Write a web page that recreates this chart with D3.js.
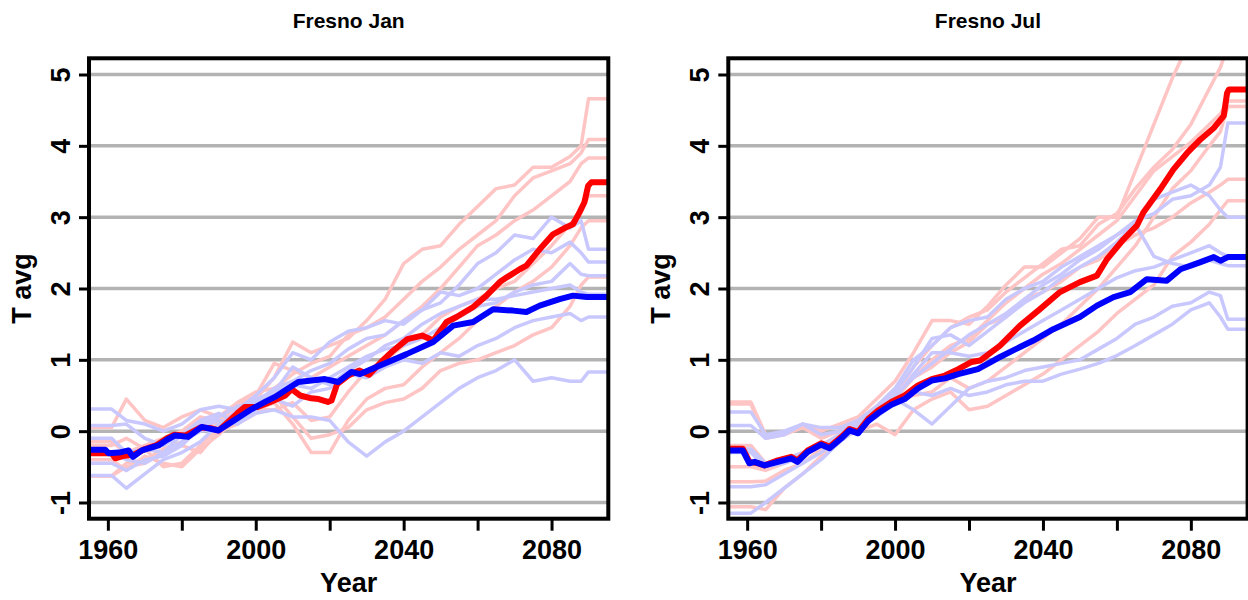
<!DOCTYPE html>
<html><head><meta charset="utf-8">
<script src="https://cdn.jsdelivr.net/npm/d3@7/dist/d3.min.js"></script>
<style>body{margin:0;background:#fff} svg{display:block}</style>
</head><body>
<svg id="chart" width="1248" height="600"></svg>
<script>
// ---------- DATA ----------
const panelTitles = ["Fresno Jan", "Fresno Jul"];
const xLabel = "Year";
const yLabel = "T avg";
const yTicks = [-1, 0, 1, 2, 3, 4, 5];
const xTicks = [1960, 1980, 2000, 2020, 2040, 2060, 2080];
const xTickLabels = ["1960", "", "2000", "", "2040", "", "2080"];

// ensemble members (pale lines) share these years
const ensYears = [1955,1961,1965,1970,1975,1980,1985,1990,1995,2000,2005,2010,2015,2020,2025,2030,2035,2040,2045,2050,2055,2060,2065,2070,2075,2080,2085,2088,2090,2095];

// ---- January ----
const janRedA = [-0.63,-0.63,-0.45,-0.4,-0.25,-0.15,0.05,0.1,0.3,0.45,0.75,1.25,1.1,1.2,1.3,1.55,1.85,2.35,2.55,2.6,2.9,3.15,3.4,3.45,3.7,3.7,3.85,4.0,4.66,4.66];
const janRedB = [0.05,0.05,0.45,0.15,0.05,0.2,0.3,0.2,0.4,0.55,0.6,0.8,0.95,1.05,1.35,1.45,1.6,1.85,2.1,2.3,2.55,2.75,2.95,3.3,3.55,3.65,3.75,3.9,4.09,4.09];
const janRedC = [-0.15,-0.15,-0.3,-0.2,-0.1,0.0,0.2,0.15,0.35,0.5,0.95,0.85,0.75,0.9,1.05,1.2,1.35,1.55,1.75,2.0,2.3,2.6,2.75,2.95,3.1,3.3,3.5,3.75,3.83,3.83];
const janRedD = [-0.4,-0.4,-0.55,-0.35,-0.45,-0.5,-0.25,-0.05,0.2,0.3,0.3,0.4,0.15,0.2,0.55,0.85,1.0,1.2,1.35,1.6,1.75,1.85,2.0,2.1,2.35,2.6,2.9,3.1,3.3,3.3];
const janRedE = [-0.63,-0.63,-0.5,-0.45,-0.3,-0.2,-0.3,0.0,0.1,0.3,0.4,0.1,-0.3,-0.3,0.15,0.45,0.6,0.65,0.9,1.1,1.3,1.55,1.75,1.95,2.1,2.3,2.6,2.85,2.95,2.95];
const janRedF = [-0.2,-0.2,-0.1,-0.25,-0.5,-0.45,-0.2,0.05,0.1,0.25,0.5,0.2,-0.1,-0.05,0.05,0.3,0.4,0.45,0.6,0.85,0.95,1.0,1.1,1.2,1.35,1.45,1.75,2.05,2.16,2.16];
const janBlueA = [0.31,0.31,0.15,0.1,0.0,0.1,0.3,0.35,0.3,0.5,0.75,1.1,1.0,1.25,1.4,1.45,1.55,1.5,1.7,1.8,2.05,2.35,2.5,2.75,2.7,3.0,2.85,2.95,2.55,2.55];
const janBlueB = [0.08,0.08,0.1,-0.1,-0.2,-0.05,0.1,0.2,0.35,0.4,0.6,0.7,0.85,0.95,1.15,1.3,1.35,1.55,1.7,1.95,1.9,2.0,2.2,2.4,2.55,2.5,2.65,2.5,2.37,2.37];
const janBlueC = [-0.62,-0.62,-0.8,-0.6,-0.4,-0.3,-0.15,0.1,0.2,0.35,0.55,0.65,0.6,0.75,0.9,1.05,1.15,1.2,1.3,1.45,1.6,1.75,1.8,1.95,2.05,2.1,2.35,2.2,2.18,2.18];
const janBlueD = [-0.1,-0.1,-0.3,-0.25,-0.3,-0.05,0.15,0.25,0.1,0.3,0.45,0.35,0.55,0.6,0.8,0.75,0.9,1.0,0.95,1.1,1.05,1.2,1.3,1.45,1.55,1.6,1.65,1.55,1.6,1.6];
const janBlueE = [-0.45,-0.45,-0.55,-0.4,-0.35,-0.2,0.05,0.15,0.1,0.25,0.3,0.2,0.2,0.15,-0.15,-0.35,-0.15,0.0,0.2,0.4,0.6,0.75,0.85,1.0,0.7,0.75,0.7,0.7,0.83,0.83];
const janBlueF = [-0.3,-0.3,-0.4,-0.45,-0.3,-0.15,0.0,0.05,0.3,0.45,0.55,0.9,0.75,0.65,0.85,1.0,1.2,1.3,1.5,1.65,1.75,1.85,1.85,1.9,1.95,2.0,2.05,1.95,1.92,1.92];

const janRedMeanYears = [1955,1961,1962,1964,1967,1970,1973,1976,1978,1981,1985,1988,1990,1992.5,1995,1997,2000.5,2004,2008,2009.7,2012,2015,2017,2019.5,2020.5,2022,2025,2028,2030.6,2033.9,2037,2041,2045,2048,2051.6,2054.3,2058.8,2062.4,2066,2068,2071.4,2073.2,2076.8,2080.4,2084,2085.8,2087.6,2088.9,2089.9,2090.8,2095];
const janRedMean = [-0.31,-0.31,-0.38,-0.35,-0.33,-0.25,-0.2,-0.1,-0.05,-0.06,0.05,0.04,0.01,0.13,0.25,0.34,0.34,0.41,0.5,0.59,0.5,0.46,0.45,0.41,0.43,0.66,0.78,0.85,0.79,0.97,1.12,1.29,1.34,1.27,1.53,1.6,1.74,1.9,2.09,2.16,2.27,2.32,2.55,2.76,2.86,2.9,3.07,3.21,3.44,3.49,3.49];
const janBlueMeanYears = [1955,1959.3,1960.2,1963,1965.6,1966.8,1969.2,1973.7,1976,1978.2,1981.7,1985.4,1989.9,1993.5,1996.2,1998.9,2002.5,2005.2,2007.9,2011.5,2015.1,2018.7,2022.3,2025.9,2028.2,2033.6,2040.8,2048,2053.4,2058.8,2064.2,2069.6,2073.2,2076.8,2082.2,2085.8,2089.5,2095];
const janBlueMean = [-0.26,-0.26,-0.31,-0.3,-0.27,-0.36,-0.27,-0.2,-0.12,-0.06,-0.08,0.06,0.01,0.13,0.22,0.31,0.41,0.48,0.57,0.69,0.71,0.73,0.69,0.83,0.8,0.92,1.08,1.25,1.48,1.53,1.71,1.69,1.67,1.76,1.85,1.9,1.88,1.88];

// ---- July ----
const julRedA = [0.41,0.41,-0.05,-0.05,0.1,0.0,0.1,0.2,0.45,0.7,1.1,1.55,1.55,1.5,1.75,2.05,2.3,2.3,2.5,2.7,3.0,3.0,3.65,4.3,4.95,5.5,6.0,6.3,6.4,6.4];
const julRedB = [-0.71,-0.71,-0.7,-0.55,-0.45,-0.25,-0.05,0.1,0.3,0.5,0.9,1.2,1.45,1.6,1.7,1.95,2.15,2.35,2.55,2.6,2.9,3.05,3.4,3.7,3.95,4.3,4.8,5.1,5.4,5.4];
const julRedC = [-1.06,-1.06,-1.1,-0.8,-0.6,-0.35,-0.15,0.05,0.25,0.45,0.75,1.0,1.2,1.3,1.55,1.8,2.0,2.2,2.35,2.55,2.75,2.95,3.3,3.65,3.85,4.05,4.3,4.45,4.63,4.63];
const julRedD = [0.38,0.38,-0.1,-0.05,0.05,-0.1,0.0,0.1,0.3,0.55,0.75,0.9,1.1,1.25,1.5,1.6,1.85,1.95,2.1,2.3,2.4,2.6,2.75,2.85,3.0,3.2,3.35,3.45,3.53,3.53];
const julRedE = [-0.2,-0.2,-0.45,-0.4,-0.3,-0.2,-0.1,0.0,0.1,-0.05,0.3,0.45,0.55,0.3,0.35,0.5,0.65,0.8,1.0,1.2,1.4,1.65,1.85,2.05,2.45,2.65,2.9,3.1,3.23,3.23];
const julRedF = [-0.5,-0.5,-0.55,-0.45,-0.35,-0.2,-0.05,0.05,0.25,0.45,0.5,0.55,0.75,0.6,0.7,0.9,1.1,1.3,1.5,1.75,2.0,2.3,2.6,3.0,3.4,3.65,4.0,4.2,4.55,4.55];
const julBlueA = [0.27,0.27,-0.05,0.0,0.1,0.05,0.05,0.15,0.35,0.6,1.0,1.2,1.45,1.55,1.6,1.85,2.0,2.1,2.3,2.45,2.6,2.75,2.95,3.05,3.25,3.3,3.45,3.7,4.32,4.32];
const julBlueB = [-0.78,-0.78,-0.75,-0.6,-0.45,-0.3,-0.1,0.1,0.3,0.5,0.75,0.95,1.15,1.35,1.5,1.65,1.85,2.05,2.2,2.4,2.55,2.75,2.9,3.25,3.35,3.45,3.3,3.1,3.0,3.0];
const julBlueC = [0.08,0.08,-0.1,-0.05,0.1,-0.05,0.0,0.1,0.3,0.55,0.9,1.3,1.35,1.2,1.4,1.6,1.8,1.95,2.15,2.3,2.45,2.65,2.9,2.45,2.35,2.3,2.4,2.35,2.32,2.32];
const julBlueD = [-1.15,-1.15,-1.0,-0.8,-0.6,-0.4,-0.15,0.05,0.25,0.45,0.3,0.1,0.35,0.6,0.7,0.75,0.85,0.9,0.95,1.0,1.15,1.3,1.5,1.6,1.75,1.8,1.95,1.9,1.57,1.57];
const julBlueE = [-0.3,-0.3,-0.5,-0.45,-0.35,-0.2,-0.1,0.05,0.2,0.4,0.55,0.5,0.6,0.5,0.55,0.65,0.7,0.7,0.8,0.87,0.95,1.06,1.2,1.35,1.5,1.7,1.8,1.6,1.43,1.43];
const julBlueF = [-0.25,-0.25,-0.45,-0.4,-0.3,-0.2,-0.05,0.1,0.3,0.45,0.8,1.1,1.1,1.05,1.1,1.25,1.4,1.55,1.7,1.85,2.0,2.15,2.25,2.3,2.4,2.5,2.6,2.5,2.45,2.45];

const julRedMeanYears = [1955,1958.8,1960.6,1962.9,1964.7,1968.3,1971.9,1973.6,1976.4,1980,1982.3,1985.5,1987.7,1990,1992.7,1995.4,1999,2002.6,2006.2,2009.9,2013.5,2017.1,2020.7,2023,2028.4,2033.8,2039.2,2044.6,2050,2054.6,2057.3,2061.8,2065.4,2067.2,2071.7,2075.3,2079,2082.6,2086.2,2088.9,2089.8,2090.3,2095];
const julRedMean = [-0.245,-0.245,-0.43,-0.45,-0.48,-0.41,-0.36,-0.41,-0.27,-0.17,-0.22,-0.08,0.03,-0.01,0.17,0.29,0.41,0.5,0.64,0.73,0.78,0.87,0.97,0.99,1.2,1.48,1.71,1.95,2.09,2.18,2.41,2.69,2.88,3.07,3.39,3.67,3.9,4.09,4.25,4.42,4.74,4.79,4.79];
const julBlueMeanYears = [1955,1958.8,1960.6,1962,1964.7,1968.3,1971.9,1973.6,1976.4,1980,1982.3,1985.5,1987.7,1990,1992.7,1995.4,1999,2002.6,2006.2,2009.9,2013.5,2017.1,2022.4,2026,2028.4,2033.8,2037.4,2042.8,2050,2054.6,2059.1,2063.6,2068.1,2073.5,2077.2,2082.6,2086.2,2088,2090,2095];
const julBlueMean = [-0.27,-0.27,-0.45,-0.43,-0.48,-0.43,-0.38,-0.43,-0.29,-0.19,-0.24,-0.1,0.01,-0.03,0.14,0.25,0.37,0.45,0.6,0.71,0.74,0.8,0.87,0.97,1.04,1.18,1.27,1.43,1.6,1.76,1.88,1.95,2.13,2.11,2.27,2.37,2.44,2.39,2.44,2.44];

// ---------- DRAWING ----------
const svg = d3.select("#chart");
const FONT = "'Liberation Sans', Arial, Helvetica, sans-serif";
const plotTop = 58.3, plotBottom = 518.7, plotW = 519.3;
const panelLefts = [89, 728.3];
const xDomain = [1954.9, 2095.35];
const yDomain = [-1.227, 5.227];

const panels = [
  { title: panelTitles[0],
    redEns: [janRedA, janRedB, janRedC, janRedD, janRedE, janRedF],
    blueEns: [janBlueA, janBlueB, janBlueC, janBlueD, janBlueE, janBlueF],
    redMean: [janRedMeanYears, janRedMean], blueMean: [janBlueMeanYears, janBlueMean] },
  { title: panelTitles[1],
    redEns: [julRedA, julRedB, julRedC, julRedD, julRedE, julRedF],
    blueEns: [julBlueA, julBlueB, julBlueC, julBlueD, julBlueE, julBlueF],
    redMean: [julRedMeanYears, julRedMean], blueMean: [julBlueMeanYears, julBlueMean] }
];

panels.forEach((p, i) => {
  const left = panelLefts[i];
  const x = d3.scaleLinear().domain(xDomain).range([left, left + plotW]);
  const y = d3.scaleLinear().domain(yDomain).range([plotBottom, plotTop]);
  const g = svg.append("g");

  const clipId = "clip" + i;
  svg.append("clipPath").attr("id", clipId).append("rect")
    .attr("x", left).attr("y", plotTop).attr("width", plotW).attr("height", plotBottom - plotTop);

  // grid
  g.append("g").selectAll("line").data(yTicks).join("line")
    .attr("x1", left).attr("x2", left + plotW)
    .attr("y1", d => y(d)).attr("y2", d => y(d))
    .attr("stroke", "#b3b3b3").attr("stroke-width", 3.5);

  const lines = g.append("g").attr("clip-path", `url(#${clipId})`);
  const ensLine = d3.line().x((d, k) => x(ensYears[k])).y(d => y(d));
  lines.selectAll("path.re").data(p.redEns).join("path").attr("class", "re")
    .attr("d", ensLine).attr("fill", "none").attr("stroke", "#ffc4c4")
    .attr("stroke-width", 3.5).attr("stroke-linejoin", "round");
  lines.selectAll("path.be").data(p.blueEns).join("path").attr("class", "be")
    .attr("d", ensLine).attr("fill", "none").attr("stroke", "#c8c8ff")
    .attr("stroke-width", 3.5).attr("stroke-linejoin", "round");

  const meanLine = d3.line().x(d => x(d[0])).y(d => y(d[1]));
  const toPts = a => a[0].map((yr, k) => [yr, a[1][k]]);
  lines.append("path").attr("d", meanLine(toPts(p.redMean)))
    .attr("fill", "none").attr("stroke", "#ff0000").attr("stroke-width", 6).attr("stroke-linejoin", "round");
  lines.append("path").attr("d", meanLine(toPts(p.blueMean)))
    .attr("fill", "none").attr("stroke", "#0000ff").attr("stroke-width", 6).attr("stroke-linejoin", "round");

  // box
  g.append("rect").attr("x", left).attr("y", plotTop).attr("width", plotW).attr("height", plotBottom - plotTop)
    .attr("fill", "none").attr("stroke", "#000").attr("stroke-width", 4);

  // y axis
  const ya = g.append("g").attr("transform", `translate(${left},0)`)
    .call(d3.axisLeft(y).tickValues(yTicks).tickSize(10).tickFormat(d => String(d)));
  ya.select(".domain").remove();
  ya.selectAll(".tick line").attr("stroke", "#000").attr("stroke-width", 3);
  ya.selectAll(".tick text").attr("transform", "rotate(-90)").attr("x", 0).attr("y", -19.5)
    .attr("dy", 0).attr("text-anchor", "middle")
    .attr("font-family", FONT).attr("font-weight", "bold").attr("font-size", 27).attr("fill", "#000");

  // x axis
  const xa = g.append("g").attr("transform", `translate(0,${plotBottom})`)
    .call(d3.axisBottom(x).tickValues(xTicks).tickSize(12).tickFormat((d, k) => xTickLabels[k]));
  xa.select(".domain").remove();
  xa.selectAll(".tick line").attr("stroke", "#000").attr("stroke-width", 3);
  xa.selectAll(".tick text").attr("y", 40.5).attr("dy", 0)
    .attr("font-family", FONT).attr("font-weight", "bold").attr("font-size", 27).attr("fill", "#000");

  // labels
  g.append("text").attr("x", left + plotW / 2).attr("y", 28).attr("text-anchor", "middle")
    .attr("font-family", FONT).attr("font-weight", "bold").attr("font-size", 21).text(p.title);
  g.append("text").attr("x", left + plotW / 2).attr("y", 592).attr("text-anchor", "middle")
    .attr("font-family", FONT).attr("font-weight", "bold").attr("font-size", 27).text(xLabel);
  g.append("text").attr("transform", `translate(${left - 58},${(plotTop + plotBottom) / 2}) rotate(-90)`)
    .attr("text-anchor", "middle")
    .attr("font-family", FONT).attr("font-weight", "bold").attr("font-size", 27).text(yLabel);
});
</script>
</body></html>
